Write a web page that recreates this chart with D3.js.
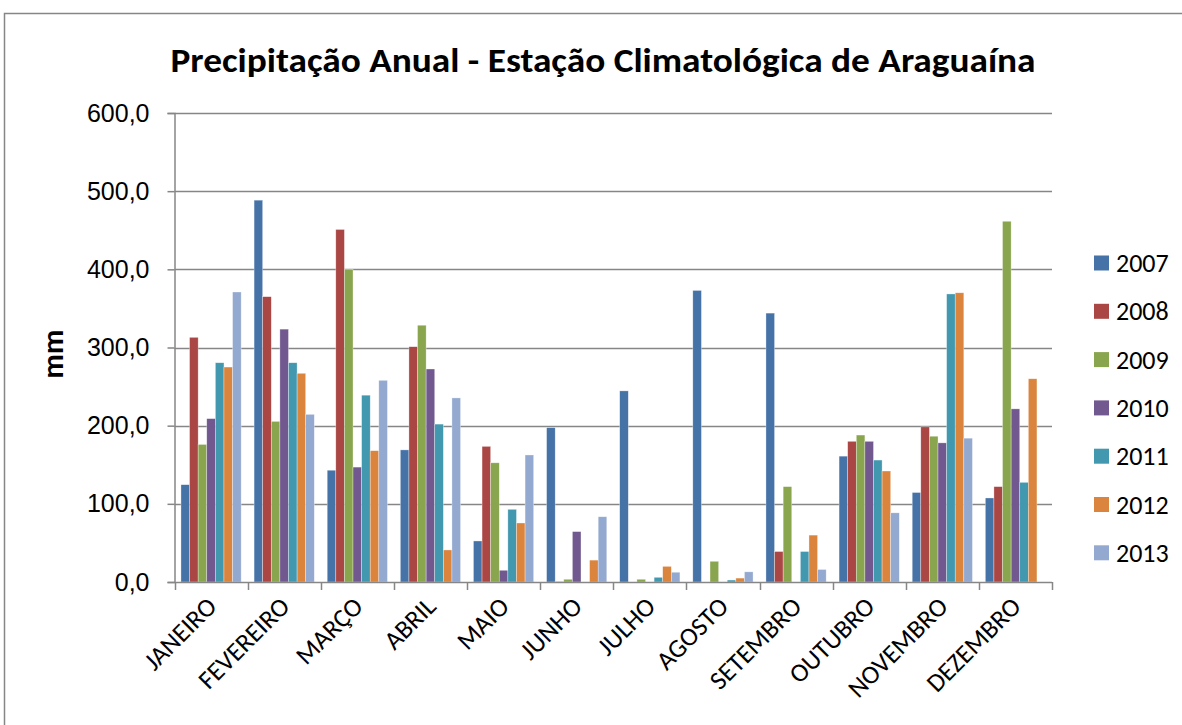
<!DOCTYPE html>
<html>
<head>
<meta charset="utf-8">
<script src="https://cdn.jsdelivr.net/npm/d3@7"></script>
<style>
  body { margin: 0; background: #fff; }
  svg { display: block; font-family: Carlito, Calibri, 'Open Sans', sans-serif; }
</style>
</head>
<body>
<div id="vis"></div>
<script>
// chart data (mm)
const months = ['JANEIRO', 'FEVEREIRO', 'MARÇO', 'ABRIL', 'MAIO', 'JUNHO',
  'JULHO', 'AGOSTO', 'SETEMBRO', 'OUTUBRO', 'NOVEMBRO', 'DEZEMBRO']
const years = ['2007', '2008', '2009', '2010', '2011', '2012', '2013']
const colors = ['#4572A7', '#AA4643', '#89A54E', '#71588F', '#4198AF', '#DB843D', '#93A9CF']

const v2007 = [124.5, 488.5, 143.0, 169.0, 52.5, 197.5, 244.5, 373.0, 344.0, 161.0, 114.5, 107.5]
const v2008 = [313.0, 365.0, 451.0, 301.0, 173.5, 0.5, 0, 0, 39.0, 180.0, 198.5, 122.0]
const v2009 = [176.0, 205.5, 400.0, 328.5, 152.5, 3.5, 3.5, 26.5, 122.0, 188.0, 186.5, 461.5]
const v2010 = [209.0, 323.5, 147.0, 272.5, 15.0, 64.5, 0, 0, 0, 180.0, 178.0, 221.5]
const v2011 = [280.5, 280.5, 239.0, 202.0, 93.0, 0, 6.0, 2.5, 39.0, 156.0, 368.5, 127.5]
const v2012 = [275.0, 267.0, 168.0, 41.0, 75.5, 28.0, 20.0, 5.0, 60.0, 142.0, 370.0, 260.0]
const v2013 = [371.0, 214.5, 258.0, 235.5, 162.5, 83.5, 12.5, 13.0, 16.0, 88.5, 184.0, null]
const series = [v2007, v2008, v2009, v2010, v2011, v2012, v2013]
const yTicks = [0, 100, 200, 300, 400, 500, 600]

const W = 1182, H = 725
const plot = { left: 174.5, right: 1052, top: 113, bottom: 582 }
const grid = '#868686'

const svg = d3.select('#vis').append('svg').attr('width', W).attr('height', H)

// outer chart border (runs off the right and bottom of the picture)
svg.append('rect')
  .attr('x', 4.5).attr('y', 13.5).attr('width', W + 20).attr('height', H + 20)
  .attr('fill', 'none').attr('stroke', grid).attr('stroke-width', 1.5)

svg.append('text')
  .attr('x', 603).attr('y', 72)
  .attr('text-anchor', 'middle')
  .style('font-size', '34px').style('font-weight', 'bold')
  .attr('textLength', 865).attr('lengthAdjust', 'spacingAndGlyphs')
  .text('Precipitação Anual - Estação Climatológica de Araguaína')

const x0 = d3.scaleBand().domain(months).range([plot.left, plot.right]).padding(0)
const x1 = d3.scaleBand().domain(years).range([0, x0.bandwidth()])
  .paddingInner(0).paddingOuter(0.75)
const y = d3.scaleLinear().domain([0, 600]).range([plot.bottom, plot.top])

const fmt = (d) => d3.format('.1f')(d).replace('.', ',')

// gridlines
svg.append('g').selectAll('line')
  .data(yTicks.slice(1))
  .enter().append('line')
  .attr('x1', plot.left).attr('x2', plot.right)
  .attr('y1', (d) => Math.round(y(d)) + 0.5).attr('y2', (d) => Math.round(y(d)) + 0.5)
  .attr('stroke', grid).attr('stroke-width', 1.5)

// bars
const groups = svg.append('g').selectAll('g')
  .data(months)
  .enter().append('g')
  .attr('transform', (m) => 'translate(' + x0(m) + ',0)')

groups.selectAll('rect')
  .data((m, i) => years.map((yr, k) => ({ yr: yr, k: k, v: series[k][i] })).filter((d) => d.v !== null))
  .enter().append('rect')
  .attr('x', (d) => x1(d.yr))
  .attr('width', x1.bandwidth())
  .attr('y', (d) => y(d.v))
  .attr('height', (d) => y(0) - y(d.v))
  .attr('fill', (d) => colors[d.k])
  .attr('stroke', 'rgba(255,255,255,0.55)').attr('stroke-width', 0.6)

// y axis
const yAxis = svg.append('g')
  .attr('transform', 'translate(' + plot.left + ',0)')
  .call(d3.axisLeft(y).tickValues(yTicks).tickSize(7).tickPadding(18).tickFormat(fmt))
yAxis.select('.domain').attr('stroke', grid).attr('stroke-width', 1.5)
yAxis.selectAll('.tick line').attr('stroke', grid).attr('stroke-width', 1.5)
yAxis.selectAll('text').style('font-size', '25px').attr('fill', '#000')
  .attr('font-family', null)

// x axis line and boundary ticks
svg.append('line')
  .attr('x1', plot.left).attr('x2', plot.right)
  .attr('y1', plot.bottom + 0.5).attr('y2', plot.bottom + 0.5)
  .attr('stroke', grid).attr('stroke-width', 1.5)

const bounds = months.map((m) => x0(m)).concat([plot.right])
svg.append('g').selectAll('line')
  .data(bounds)
  .enter().append('line')
  .attr('x1', (d) => Math.round(d) + 0.5).attr('x2', (d) => Math.round(d) + 0.5)
  .attr('y1', plot.bottom).attr('y2', plot.bottom + 8)
  .attr('stroke', grid).attr('stroke-width', 1.5)

svg.append('g').selectAll('text')
  .data(months)
  .enter().append('text')
  .attr('text-anchor', 'end')
  .attr('transform', (m) => 'translate(' + (x0(m) + x0.bandwidth() / 2 + 7) + ',' + (plot.bottom + 26) + ')rotate(-45)')
  .style('font-size', '26px')
  .text((m) => m)

// y axis title
svg.append('text')
  .attr('transform', 'translate(63,354)rotate(-90)')
  .attr('text-anchor', 'middle')
  .style('font-size', '30px').style('font-weight', 'bold')
  .text('mm')

// legend
const legend = svg.append('g').selectAll('g')
  .data(years)
  .enter().append('g')
  .attr('transform', (d, i) => 'translate(1094,' + (263 + i * 48.3) + ')')

legend.append('rect')
  .attr('x', 0).attr('y', -7.5).attr('width', 15).attr('height', 15)
  .attr('fill', (d, i) => colors[i])

legend.append('text')
  .attr('x', 22).attr('y', 0).attr('dy', '0.35em')
  .style('font-size', '26px')
  .text((d) => d)
</script>
</body>
</html>
